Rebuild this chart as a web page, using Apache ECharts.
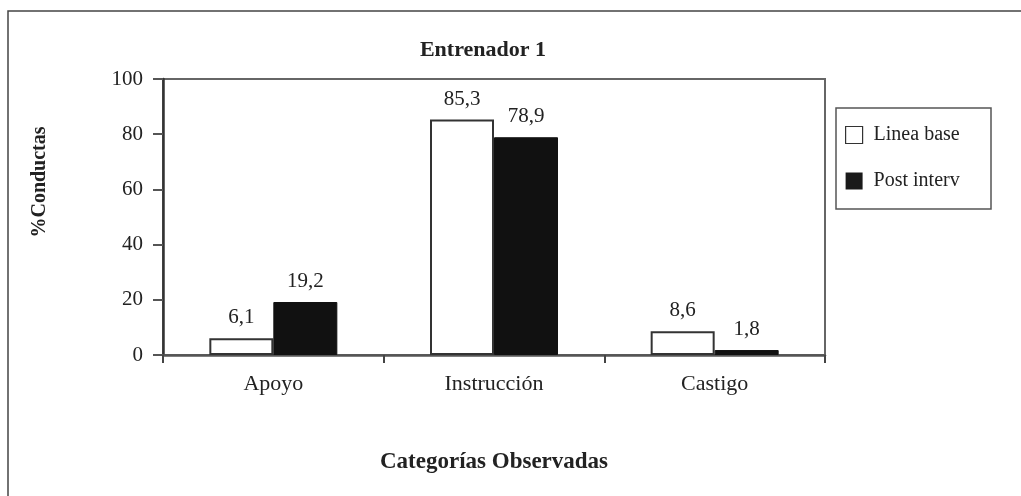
<!DOCTYPE html>
<html>
<head>
<meta charset="utf-8">
<script src="https://cdn.jsdelivr.net/npm/echarts@6/dist/echarts.min.js"></script>
<style>html,body{margin:0;padding:0;background:#fff}#c{width:1021px;height:496px}</style>
</head>
<body>
<div id="c"></div>
<script>
var categories = ['Apoyo', 'Instrucción', 'Castigo'];
var lineaBase = [6.1, 85.3, 8.6];
var postInterv = [19.2, 78.9, 1.8];
var seriesNames = ['Linea base', 'Post interv'];
var yTicks = [0, 20, 40, 60, 80, 100];

var FONT = '"Liberation Serif", "DejaVu Serif", serif';
var chart = echarts.init(document.getElementById('c'));
function fmt(p) { return String(p.value).replace('.', ','); }
chart.setOption({
  animation: false,
  backgroundColor: '#fff',
  textStyle: { fontFamily: FONT, color: '#222' },
  title: {
    text: 'Entrenador 1',
    left: 478, top: 34, textAlign: 'center',
    textStyle: { fontFamily: FONT, fontSize: 22, fontWeight: 'bold', color: '#222' }
  },
  grid: { left: 163, right: 196, top: 79, bottom: 141, show: true, borderColor: '#666', borderWidth: 2 },
  legend: {
    orient: 'vertical', left: 845, top: 125, padding: 0,
    itemWidth: 17, itemHeight: 17, itemGap: 26, itemTextGap: 10,
    textStyle: { fontFamily: FONT, fontSize: 20, color: '#222', lineHeight: 17, padding: [0, 0, 0, 6] },
    data: [
      { name: seriesNames[0], icon: 'rect', itemStyle: { color: '#fff', borderColor: '#333', borderWidth: 1.2 } },
      { name: seriesNames[1], icon: 'rect', itemStyle: { color: '#1a1a1a', borderWidth: 0 } }
    ]
  },
  graphic: [
    { type: 'rect', shape: { x: 836, y: 108, width: 155, height: 101 }, style: { fill: 'none', stroke: '#555', lineWidth: 1.5 }, z: -1 },
    { type: 'polyline', shape: { points: [[8, 496], [8, 11], [1021, 11]] }, style: { fill: 'none', stroke: '#444', lineWidth: 1.5 } },
    { type: 'text', x: 40, y: 182, rotation: Math.PI / 2,
      style: { text: '%Conductas', font: 'bold 20px ' + FONT, fill: '#222', textAlign: 'center', textVerticalAlign: 'middle' } }
  ],
  xAxis: {
    type: 'category', data: categories,
    name: 'Categorías Observadas', nameLocation: 'middle', nameGap: 96,
    nameTextStyle: { fontFamily: FONT, fontSize: 23, fontWeight: 'bold', color: '#222' },
    axisLine: { lineStyle: { color: '#555', width: 2.5 } },
    axisTick: { show: true, length: 8, lineStyle: { color: '#444', width: 2 } },
    axisLabel: { fontFamily: FONT, fontSize: 22, color: '#222', margin: 18 }
  },
  yAxis: {
    type: 'value', min: 0, max: 100, interval: 20,
    axisLine: { show: true, lineStyle: { color: '#333', width: 2.5 } },
    axisTick: { show: true, length: 10, lineStyle: { color: '#555', width: 2 } },
    axisLabel: { fontFamily: FONT, fontSize: 21, color: '#222', margin: 20,
      formatter: function (v) { return yTicks.indexOf(v) >= 0 ? String(v) : ''; } },
    splitLine: { show: false }
  },
  series: [
    { name: seriesNames[0], type: 'bar', data: lineaBase, barWidth: 64, barGap: '0%',
      itemStyle: { color: '#fff', borderColor: '#333', borderWidth: 2 },
      label: { show: true, position: 'top', distance: 10, formatter: fmt, fontFamily: FONT, fontSize: 21, color: '#222' } },
    { name: seriesNames[1], type: 'bar', data: postInterv, barWidth: 64, barGap: '0%',
      itemStyle: { color: '#111', borderColor: '#111', borderWidth: 1 },
      label: { show: true, position: 'top', distance: 10, formatter: fmt, fontFamily: FONT, fontSize: 21, color: '#222' } }
  ]
});
</script>
</body>
</html>
